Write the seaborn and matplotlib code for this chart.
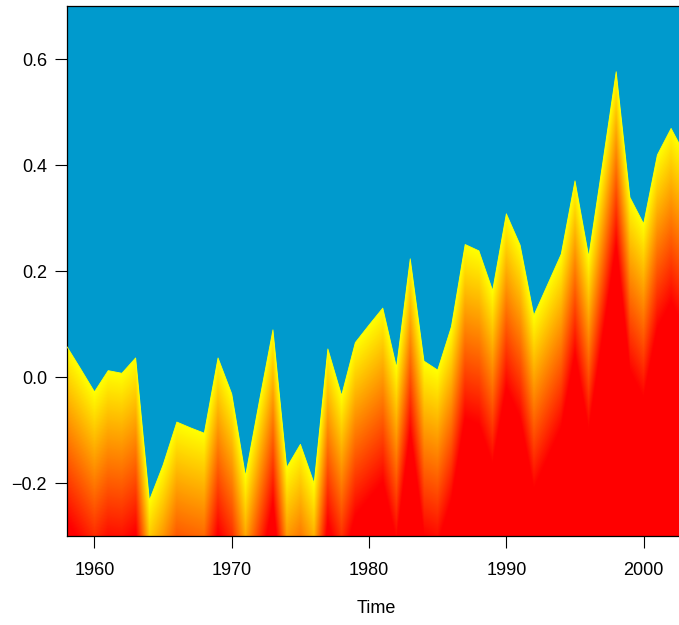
import numpy as np
import pandas as pd
import matplotlib
matplotlib.use("Agg")
import matplotlib.pyplot as plt
import seaborn as sns

sns.set_style("white")
plt.rcParams["font.family"] = ["Liberation Sans", "DejaVu Sans"]
plt.rcParams["text.color"] = "black"
plt.rcParams["axes.labelcolor"] = "black"
plt.rcParams["xtick.color"] = "black"
plt.rcParams["ytick.color"] = "black"

# Annual anomaly series
years = list(range(1958, 2004))
values = [0.057, 0.015, -0.028, 0.012, 0.007, 0.036, -0.233, -0.166, -0.085, -0.096,
          -0.106, 0.036, -0.032, -0.187, -0.047, 0.089, -0.171, -0.127, -0.201, 0.053,
          -0.035, 0.065, 0.098, 0.130, 0.018, 0.223, 0.030, 0.013, 0.095, 0.250,
          0.238, 0.163, 0.308, 0.249, 0.116, 0.174, 0.232, 0.370, 0.227, 0.400,
          0.576, 0.339, 0.289, 0.419, 0.469, 0.420]
y_ticks = [-0.2, 0.0, 0.2, 0.4, 0.6]
x_ticks = [1960, 1970, 1980, 1990, 2000]

df = pd.DataFrame({"year": years, "value": values})

fig = plt.figure(figsize=(6.79, 6.25), dpi=100)
ax = fig.add_axes([0.0987, 0.1424, 0.9099, 0.848])
ax.set_facecolor("#009ACD")

# gradient fill: yellow at the curve, red further below it
n_layers = 120
depth = 0.33
palette = sns.blend_palette(["#FFFF00", "#FF8000", "#FF0000"], n_layers)
for k, col in enumerate(palette):
    ax.fill_between(df["year"], df["value"] - k * depth / n_layers, -1.0,
                    color=col, linewidth=0, zorder=2)

sns.lineplot(data=df, x="year", y="value", color="#FFFF00", linewidth=0.6,
             ax=ax, zorder=3)

ax.set_xlim(1958, 2003)
ax.set_ylim(-0.3, 0.7)
ax.set_xticks(x_ticks)
ax.set_yticks(y_ticks)
ax.set_yticklabels(["\u22120.2", "0.0", "0.2", "0.4", "0.6"])
ax.tick_params(axis="both", direction="out", length=8.5, width=0.8, color="black",
               labelcolor="black", labelsize=13, left=True, bottom=True, pad=6)
ax.tick_params(axis="x", pad=10)
ax.set_xlabel("Time", fontsize=13, labelpad=15, color="black")
ax.set_ylabel("")
for side in ["top", "left", "bottom", "right"]:
    ax.spines[side].set_color("black")
    ax.spines[side].set_linewidth(0.9)

fig.savefig("out.png", dpi=100)
